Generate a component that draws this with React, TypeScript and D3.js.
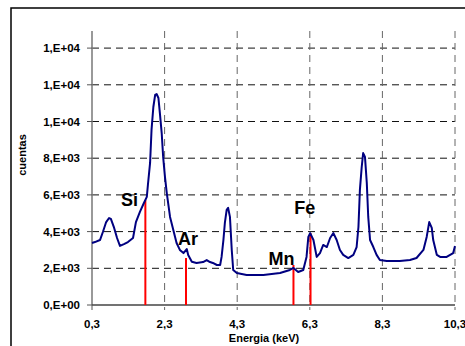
import React, { useEffect, useRef } from 'react';
import * as d3 from 'd3';

// spectrum (keV, cuentas)
const energia = [0.30, 0.38, 0.52, 0.60, 0.69, 0.77, 0.82, 0.91, 0.99, 1.07, 1.18, 1.29, 1.43, 1.51, 1.62, 1.73, 1.81, 1.84, 1.90, 1.94, 1.99, 2.04, 2.08, 2.13, 2.17, 2.22, 2.26, 2.31, 2.36, 2.45, 2.54, 2.63, 2.72, 2.82, 2.91, 2.95, 3.05, 3.18, 3.36, 3.46, 3.55, 3.63, 3.74, 3.83, 3.87, 3.92, 3.96, 4.01, 4.05, 4.10, 4.15, 4.19, 4.29, 4.56, 5.02, 5.48, 5.75, 5.85, 5.98, 6.12, 6.21, 6.26, 6.31, 6.40, 6.49, 6.58, 6.67, 6.77, 6.86, 6.95, 7.04, 7.13, 7.22, 7.36, 7.50, 7.59, 7.64, 7.68, 7.73, 7.77, 7.82, 7.87, 7.91, 7.96, 8.05, 8.14, 8.23, 8.42, 8.78, 9.06, 9.24, 9.43, 9.52, 9.59, 9.66, 9.70, 9.80, 9.89, 10.07, 10.25, 10.30];
const cuentas = [3380, 3430, 3540, 3980, 4520, 4740, 4690, 4200, 3650, 3220, 3320, 3430, 3650, 4520, 5070, 5560, 5890, 6540, 7740, 9540, 10790, 11450, 11500, 11280, 10460, 9370, 8070, 6980, 6100, 4800, 4090, 3380, 3000, 2830, 3050, 2730, 2360, 2290, 2340, 2450, 2340, 2290, 2180, 2180, 2620, 3540, 4470, 5180, 5290, 4800, 3000, 1910, 1740, 1640, 1640, 1740, 1910, 2020, 1800, 1910, 2620, 3710, 3920, 3540, 2620, 2830, 3270, 3160, 3650, 3920, 3540, 3000, 2730, 2560, 2730, 3160, 4250, 6270, 7520, 8280, 8070, 6650, 4800, 3540, 3160, 2730, 2450, 2400, 2400, 2450, 2560, 3000, 3710, 4520, 4200, 3540, 2730, 2620, 2620, 2830, 3220];

// element markers
const elementos = ['Si', 'Ar', 'Mn', 'Fe'];
const lineaKeV = [1.77, 2.89, 5.85, 6.32];
const lineaAltura = [5720, 2560, 2180, 3920];
const etiquetaKeV = [1.1, 2.67, 5.16, 5.87];
const etiquetaCuentas = [5400, 3250, 2200, 4940];

const xTicks = [0.3, 2.3, 4.3, 6.3, 8.3, 10.3];
const yTicks = [0, 2000, 4000, 6000, 8000, 10000, 12000, 14000];
const yTickLabels = ['0,E+00', '2,E+03', '4,E+03', '6,E+03', '8,E+03', '1,E+04', '1,E+04', '1,E+04'];

const App = () => {
  const ref = useRef<SVGSVGElement>(null);

  useEffect(() => {
    const W = 465, H = 346;
    const left = 92, right = 455, bottom = 305;
    const svg = d3.select(ref.current);
    svg.selectAll('*').remove();

    const x = d3.scaleLinear().domain([0.3, 10.3]).range([left, right]);
    const y = d3.scaleLinear().domain([0, 2000]).range([bottom, bottom - 36.7]);
    const top = 31;

    // outer frame (runs off the picture right and bottom)
    svg.append('rect')
      .attr('x', 11).attr('y', 8)
      .attr('width', W).attr('height', H)
      .attr('fill', 'white').attr('stroke', 'black').attr('stroke-width', 1.5);

    // horizontal dashed grid
    svg.selectAll('.hgrid')
      .data(yTicks.slice(1))
      .enter().append('line')
      .attr('x1', left).attr('x2', right)
      .attr('y1', d => y(d)).attr('y2', d => y(d))
      .attr('stroke', '#111').attr('stroke-dasharray', '7,5');

    // vertical dashed grid
    svg.selectAll('.vgrid')
      .data(xTicks.slice(1))
      .enter().append('line')
      .attr('x1', d => x(d)).attr('x2', d => x(d))
      .attr('y1', top).attr('y2', bottom + 5)
      .attr('stroke', '#666').attr('stroke-dasharray', '7,5');

    // axes
    svg.append('line')
      .attr('x1', left).attr('x2', left).attr('y1', top).attr('y2', bottom)
      .attr('stroke', '#777').attr('stroke-width', 1.5);
    svg.append('line')
      .attr('x1', left).attr('x2', right).attr('y1', bottom).attr('y2', bottom)
      .attr('stroke', '#444').attr('stroke-width', 1.5);

    svg.selectAll('.ytick')
      .data(yTicks)
      .enter().append('line')
      .attr('x1', left - 5).attr('x2', left)
      .attr('y1', d => y(d)).attr('y2', d => y(d))
      .attr('stroke', '#555');

    svg.append('line')
      .attr('x1', left).attr('x2', left).attr('y1', bottom).attr('y2', bottom + 5)
      .attr('stroke', '#555');

    const font = 'Arial, "Liberation Sans", sans-serif';

    svg.selectAll('.ylab')
      .data(yTicks)
      .enter().append('text')
      .attr('x', 80).attr('y', d => y(d))
      .attr('dy', '0.36em')
      .attr('text-anchor', 'end')
      .style('font', `bold 11.5px ${font}`)
      .text((d, i) => yTickLabels[i]);

    svg.selectAll('.xlab')
      .data(xTicks)
      .enter().append('text')
      .attr('x', d => x(d)).attr('y', 328)
      .attr('text-anchor', 'middle')
      .style('font', `bold 11.5px ${font}`)
      .text(d => d3.format('.1f')(d).replace('.', ','));

    svg.append('text')
      .attr('x', 264).attr('y', 342)
      .attr('text-anchor', 'middle')
      .style('font', `bold 11px ${font}`)
      .text('Energia (keV)');

    svg.append('text')
      .attr('transform', 'translate(26,155) rotate(-90)')
      .attr('text-anchor', 'middle')
      .style('font', `bold 11px ${font}`)
      .text('cuentas');

    // red element lines
    svg.selectAll('.elinea')
      .data(elementos)
      .enter().append('line')
      .attr('x1', (d, i) => x(lineaKeV[i])).attr('x2', (d, i) => x(lineaKeV[i]))
      .attr('y1', bottom).attr('y2', (d, i) => y(lineaAltura[i]))
      .attr('stroke', '#ff0000').attr('stroke-width', 2);

    // spectrum
    const pts: [number, number][] = energia.map((e, i) => [e, cuentas[i]]);
    const line = d3.line<[number, number]>()
      .x(d => x(d[0]))
      .y(d => y(d[1]));
    svg.append('path')
      .datum(pts)
      .attr('d', line)
      .attr('fill', 'none')
      .attr('stroke', '#000080')
      .attr('stroke-width', 2)
      .attr('stroke-linejoin', 'round');

    // element labels
    svg.selectAll('.etiqueta')
      .data(elementos)
      .enter().append('text')
      .attr('x', (d, i) => x(etiquetaKeV[i]))
      .attr('y', (d, i) => y(etiquetaCuentas[i]))
      .style('font', `bold 18px ${font}`)
      .text(d => d);
  }, []);

  return (
    <svg ref={ref} width={465} height={346}
      style={{ position: 'absolute', left: 0, top: 0, background: 'white' }} />
  );
};

export default App;
